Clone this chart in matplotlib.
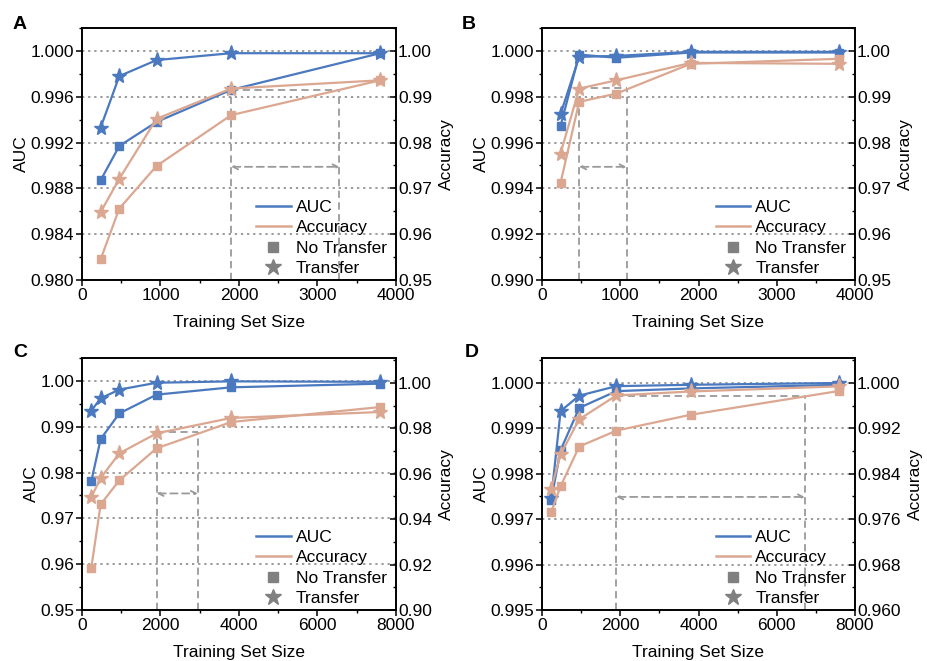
import matplotlib
matplotlib.use("Agg")
import matplotlib.pyplot as plt
import numpy as np
from matplotlib.lines import Line2D
from matplotlib.ticker import MultipleLocator, FormatStrFormatter

plt.rcParams["font.family"] = ["Liberation Sans", "DejaVu Sans"]
plt.rcParams["font.size"] = 12.5

BLUE = "#4b79c0"
TAN = "#dba791"
GUIDE = "#9a9a9a"

# training set sizes
x_small = [237, 475, 950, 1900, 3800]
x_large = [237, 475, 950, 1900, 3800, 7600]

# panel A
a_auc_nt = [0.9887, 0.9917, 0.9938, 0.9966, 0.9998]
a_auc_t = [0.9933, 0.9978, 0.9992, 0.9998, 0.9998]
a_acc_nt = [0.9545, 0.9656, 0.9749, 0.9860, 0.9936]
a_acc_t = [0.9648, 0.9721, 0.9852, 0.9918, 0.9936]

# panel B
b_auc_nt = [0.99672, 0.99984, 0.99970, 0.99993, 0.99993]
b_auc_t = [0.99724, 0.99974, 0.99978, 0.99996, 0.99996]
b_acc_nt = [0.9712, 0.9889, 0.9907, 0.9972, 0.9983]
b_acc_t = [0.9776, 0.9918, 0.9936, 0.9974, 0.9972]

# panel C
c_auc_nt = [0.9781, 0.9873, 0.9929, 0.9970, 0.9986, 0.9994]
c_auc_t = [0.9935, 0.9962, 0.9981, 0.9996, 0.9999, 0.9998]
c_acc_nt = [0.9186, 0.9465, 0.9571, 0.9712, 0.9828, 0.9894]
c_acc_t = [0.9497, 0.9581, 0.9690, 0.9778, 0.9846, 0.9872]

# panel D
d_auc_nt = [0.99743, 0.99852, 0.99945, 0.99982, 0.99988, 0.99996]
d_auc_t = [0.99747, 0.99938, 0.99972, 0.99993, 0.99996, 1.00000]
d_acc_nt = [0.9773, 0.9818, 0.9888, 0.9916, 0.9944, 0.9986]
d_acc_t = [0.9814, 0.9874, 0.9936, 0.9978, 0.9985, 0.9994]

# data-size gap guides: (x_transfer, x_no_transfer, level, arrow level) in AUC units
gaps = {
    "A": (1900, 3280, 0.99663, 0.98988),
    "B": (475, 1080, 0.99836, 0.99494),
    "C": (1900, 2950, 0.98888, 0.97544),
    "D": (1900, 6720, 0.99972, 0.99749),
}

panels = [
    ("A", x_small, a_auc_nt, a_auc_t, a_acc_nt, a_acc_t,
     (0, 4000, 1000, 500), (0.980, 1.0020, 0.004, "%.3f"), (0.95, 1.00502, 0.01, "%.2f")),
    ("B", x_small, b_auc_nt, b_auc_t, b_acc_nt, b_acc_t,
     (0, 4000, 1000, 500), (0.990, 1.0010, 0.002, "%.3f"), (0.95, 1.00502, 0.01, "%.2f")),
    ("C", x_large, c_auc_nt, c_auc_t, c_acc_nt, c_acc_t,
     (0, 8000, 2000, 1000), (0.95, 1.0050, 0.01, "%.2f"), (0.90, 1.0110, 0.02, "%.2f")),
    ("D", x_large, d_auc_nt, d_auc_t, d_acc_nt, d_acc_t,
     (0, 8000, 2000, 1000), (0.995, 1.00055, 0.001, "%.3f"), (0.960, 1.0044, 0.008, "%.3f")),
]

boxes = {
    "A": [82 / 928, 381 / 661, 314 / 928, 252 / 661],
    "B": [542 / 928, 381 / 661, 313 / 928, 252 / 661],
    "C": [82 / 928, 51 / 661, 314 / 928, 252 / 661],
    "D": [542 / 928, 51 / 661, 313 / 928, 252 / 661],
}
letter_pos = {"A": (13, 16), "B": (462, 16), "C": (13, 344), "D": (465, 344)}

fig = plt.figure(figsize=(9.28, 6.61), dpi=100)

for name, xs, auc_nt, auc_t, acc_nt, acc_t, xl, yl, yr in panels:
    ax = fig.add_axes(boxes[name])
    ax2 = ax.twinx()

    ax.plot(xs, auc_nt, color=BLUE, lw=1.6, marker="s", ms=6, zorder=3)
    ax.plot(xs, auc_t, color=BLUE, lw=1.6, marker="*", ms=11, zorder=3)
    ax2.plot(xs, acc_nt, color=TAN, lw=1.6, marker="s", ms=6, zorder=3)
    ax2.plot(xs, acc_t, color=TAN, lw=1.6, marker="*", ms=11, zorder=3)

    ax.set_xlim(xl[0], xl[1])
    ax.xaxis.set_major_locator(MultipleLocator(xl[2]))
    ax.xaxis.set_minor_locator(MultipleLocator(xl[3]))
    ax.set_ylim(yl[0], yl[1])
    ax.set_yticks(np.arange(yl[0], 1.0 + yl[2] / 2, yl[2]))
    ax.yaxis.set_minor_locator(MultipleLocator(yl[2] / 2))
    ax.yaxis.set_major_formatter(FormatStrFormatter(yl[3]))
    ax2.set_ylim(yr[0], yr[1])
    ax2.set_yticks(np.arange(yr[0], 1.0 + yr[2] / 2, yr[2]))
    ax2.yaxis.set_minor_locator(MultipleLocator(yr[2] / 2))
    ax2.yaxis.set_major_formatter(FormatStrFormatter(yr[3]))

    ax.grid(axis="y", linestyle=(0, (1.5, 2.5)), color="#808080", lw=1.1)
    ax.set_axisbelow(True)

    ax.tick_params(axis="both", which="major", direction="out", length=4, width=1.1, pad=1.5)
    ax.tick_params(axis="both", which="minor", direction="out", length=2.5, width=1.0)
    ax.tick_params(axis="y", which="both", right=False)
    ax2.tick_params(axis="y", which="major", direction="in", length=4, width=1.1, pad=1.5)
    ax2.tick_params(axis="y", which="minor", direction="in", length=2.5, width=1.0)
    for sp in list(ax.spines.values()) + list(ax2.spines.values()):
        sp.set_linewidth(1.2)

    ax.set_xlabel("Training Set Size", labelpad=9)
    ax.set_ylabel("AUC", labelpad=1)
    ax2.set_ylabel("Accuracy", labelpad=5)

    # guides showing the data-size gap
    g0, g1, lev, arr = gaps[name]
    ax.plot([g0, g0], [yl[0], lev], color=GUIDE, ls=(0, (4, 2.5)), lw=1.3, zorder=2)
    ax.plot([g1, g1], [yl[0], lev], color=GUIDE, ls=(0, (4, 2.5)), lw=1.3, zorder=2)
    ax.plot([g0, g1], [lev, lev], color=GUIDE, ls=(0, (4, 2.5)), lw=1.3, zorder=2)
    ax.annotate("", xy=(g1, arr), xytext=(g0, arr),
                arrowprops=dict(arrowstyle="<->", color=GUIDE, lw=1.3,
                                linestyle=(0, (4, 2.5)), shrinkA=0, shrinkB=0,
                                mutation_scale=9))

    handles = [
        Line2D([], [], color=BLUE, lw=1.8),
        Line2D([], [], color=TAN, lw=1.8),
        Line2D([], [], color="#808080", ls="none", marker="s", ms=7),
        Line2D([], [], color="#808080", ls="none", marker="*", ms=12),
    ]
    ax2.legend(handles, ["AUC", "Accuracy", "No Transfer", "Transfer"],
               loc="lower left", bbox_to_anchor=(0.51, -0.04), frameon=False,
               labelspacing=0.3, handlelength=2.0, handletextpad=0.3,
               borderpad=0.3)

    lx, ly = letter_pos[name]
    fig.text(lx / 928, 1 - ly / 661, name,
             fontsize=14, fontweight="bold", va="top", ha="left")

fig.savefig("out.png", dpi=100)
